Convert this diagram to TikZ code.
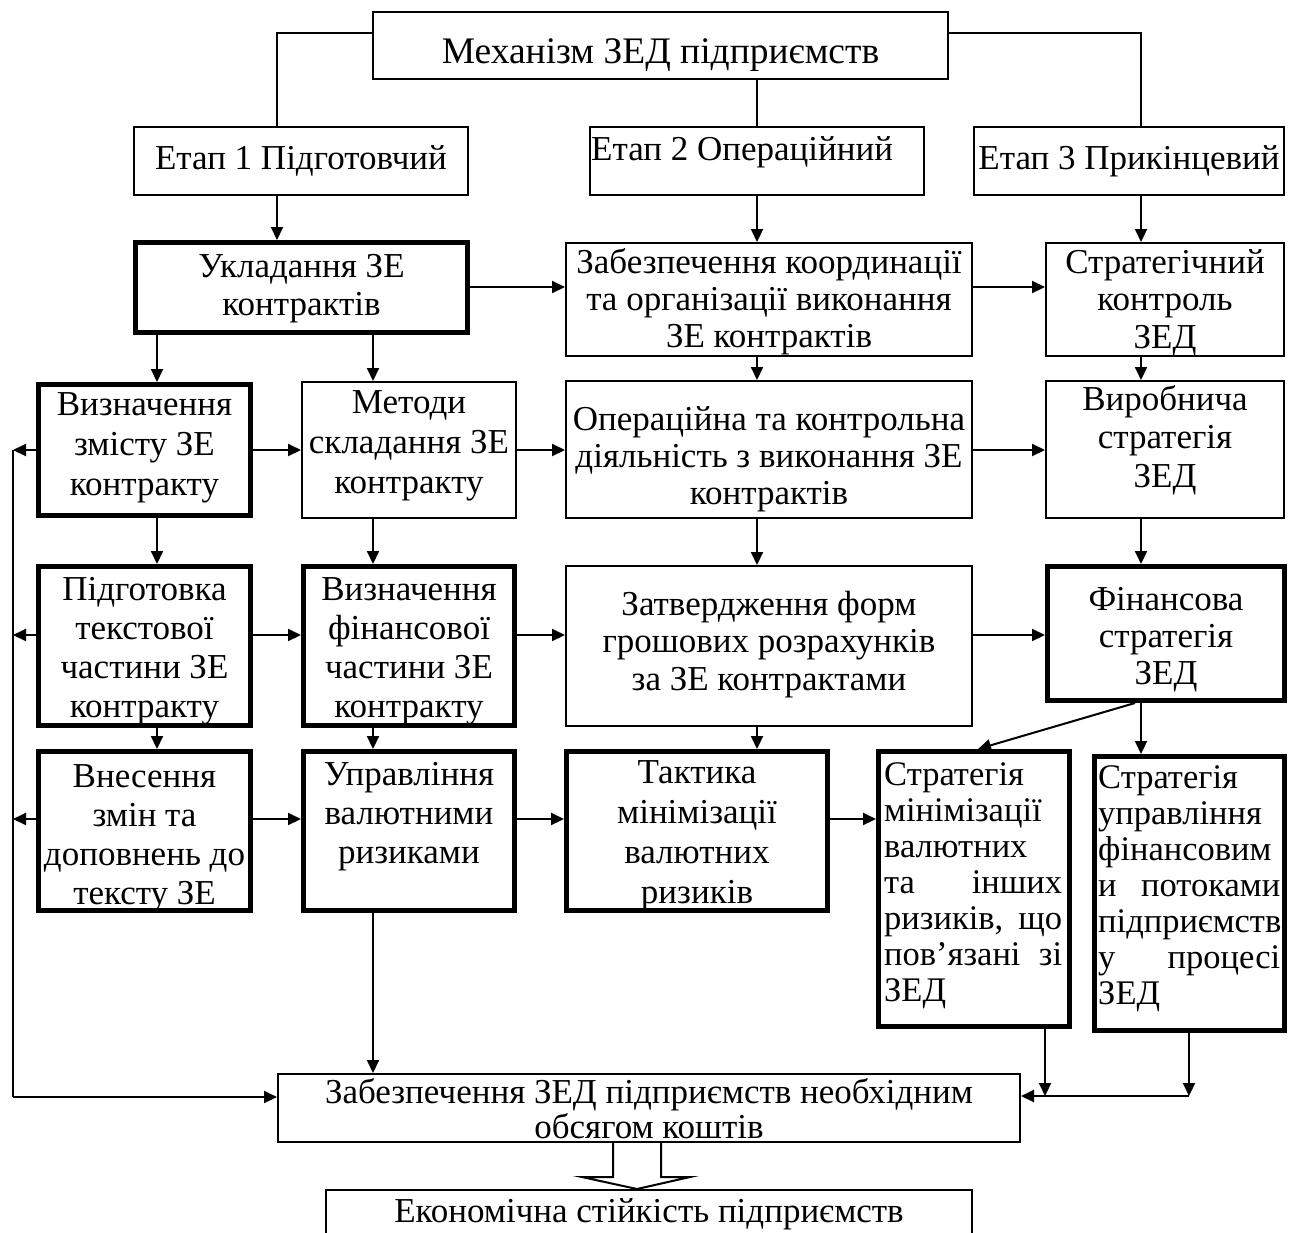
\documentclass[tikz,border=0pt]{standalone}
\usepackage{fontspec}
\setmainfont{Liberation Serif}
\usetikzlibrary{arrows.meta}

% one line of a text block: centred, left-aligned, or spread to both edges
\newcommand\lnC[1]{\hbox to\hsize{\hss#1\hss}}
\newcommand\lnL[1]{\hbox to\hsize{#1\hfil}}
\newcommand\lnJ[2]{\hbox to\hsize{#1\hfill#2}}
% block of lines: width, line distance, lines; its baseline is the first line's
\newcommand\stacklines[3]{\vtop{\hsize=#1pt\baselineskip=#2pt\lineskiplimit=-100pt\lineskip=0pt#3}}

\tikzset{
  thinb/.style={draw, line width=2pt, inner sep=0pt},
  thickb/.style={draw, line width=5pt, inner sep=0pt},
  txt/.style={inner sep=0pt, font=\fontsize{35}{38}\selectfont, anchor=base},
  arr/.style={line width=2pt, -{Triangle[length=13pt,width=12pt]}},
  link/.style={line width=2pt},
}

% boxes given by their outer corners (x1,y1) (x2,y2)
\newcommand\plainbox[5]{\node[thinb, minimum width={#4-#2-2}, minimum height={#5-#3-2}] (#1) at ({(#2+#4)/2},{(#3+#5)/2}) {};}
\newcommand\heavybox[5]{\node[thickb, minimum width={#4-#2-5}, minimum height={#5-#3-5}] (#1) at ({(#2+#4)/2},{(#3+#5)/2}) {};}

\begin{document}
\begin{tikzpicture}[x=1pt,y=-1pt]
\useasboundingbox (0,0) rectangle (1300,1232);
\clip (0,0) rectangle (1300,1232);
\fill[white] (0,0) rectangle (1300,1232);

% ---------- texts ----------
\node[txt, font=\fontsize{37.5}{40}\selectfont] (titT) at (660.5,63) {Механізм ЗЕД підприємств};
\node[txt] (e1T) at (301,169) {Етап 1 Підготовчий};
\node[txt, anchor=base west] (e2T) at (591,160) {Етап 2 Операційний};
\node[txt] (e3T) at (1129,169) {Етап 3 Прикінцевий};

\node[txt] (uklT) at (301.5,277) {\stacklines{330}{38}{\lnC{Укладання ЗЕ}\lnC{контрактів}}};
\node[txt] (zkT) at (769,273) {\stacklines{400}{37}{\lnC{Забезпечення координації}\lnC{та організації виконання}\lnC{ЗЕ контрактів}}};
\node[txt] (skT) at (1165,273) {\stacklines{230}{37.5}{\lnC{Стратегічний}\lnC{контроль}\lnC{ЗЕД}}};

\node[txt] (vizT) at (144.5,415) {\stacklines{210}{40}{\lnC{Визначення}\lnC{змісту ЗЕ}\lnC{контракту}}};
\node[txt] (metT) at (409,413) {\stacklines{210}{40}{\lnC{Методи}\lnC{складання ЗЕ}\lnC{контракту}}};
\node[txt] (opT) at (769,430) {\stacklines{400}{37}{\lnC{Операційна та контрольна}\lnC{діяльність з виконання ЗЕ}\lnC{контрактів}}};
\node[txt] (vyrT) at (1165,410) {\stacklines{230}{38.5}{\lnC{Виробнича}\lnC{стратегія}\lnC{ЗЕД}}};

\node[txt] (pidT) at (144.5,600) {\stacklines{210}{39}{\lnC{Підготовка}\lnC{текстової}\lnC{частини ЗЕ}\lnC{контракту}}};
\node[txt] (vfinT) at (409,600) {\stacklines{210}{39}{\lnC{Визначення}\lnC{фінансової}\lnC{частини ЗЕ}\lnC{контракту}}};
\node[txt] (zatT) at (769,615) {\stacklines{400}{37.5}{\lnC{Затвердження форм}\lnC{грошових розрахунків}\lnC{за ЗЕ контрактами}}};
\node[txt] (fsT) at (1166,610) {\stacklines{230}{37}{\lnC{Фінансова}\lnC{стратегія}\lnC{ЗЕД}}};

\node[txt] (vneT) at (144.5,787) {\stacklines{210}{39.3}{\lnC{Внесення}\lnC{змін та}\lnC{доповнень до}\lnC{тексту ЗЕ}}};
\node[txt] (uprT) at (409,785) {\stacklines{210}{39}{\lnC{Управління}\lnC{валютними}\lnC{ризиками}}};
\node[txt] (takT) at (697,783) {\stacklines{260}{40}{\lnC{Тактика}\lnC{мінімізації}\lnC{валютних}\lnC{ризиків}}};
\node[txt, anchor=base west, font=\fontsize{34.5}{36}\selectfont] (sminT) at (884,785) {\stacklines{178}{36}{\lnL{Стратегія}\lnL{мінімізації}\lnL{валютних}\lnJ{та}{інших}\lnJ{ризиків,}{що}\lnJ{пов’язані}{зі}\lnL{ЗЕД}}};
\node[txt, anchor=base west, font=\fontsize{34.5}{36}\selectfont] (supT) at (1098,788) {\stacklines{182}{36}{\lnL{Стратегія}\lnL{управління}\lnL{фінансовим}\lnJ{и}{потоками}\lnL{підприємств}\lnJ{у}{процесі}\lnL{ЗЕД}}};

\node[txt] (zabT) at (649,1103) {\stacklines{740}{35}{\lnC{Забезпечення ЗЕД підприємств необхідним}\lnC{обсягом коштів}}};
\node[txt] (ecoT) at (649,1222) {Економічна стійкість підприємств};

% ---------- boxes ----------
\plainbox{tit}{372}{11}{949}{80}
\plainbox{e1}{133}{126}{469}{196}
\plainbox{e2}{589}{126}{925}{196}
\plainbox{e3}{973}{126}{1285}{196}

\heavybox{ukl}{133}{240}{470}{335}
\plainbox{zk}{565}{242}{973}{357}
\plainbox{sk}{1045}{242}{1285}{357}

\heavybox{viz}{36}{382}{253}{518}
\plainbox{met}{301}{381}{517}{519}
\plainbox{op}{565}{380}{973}{519}
\plainbox{vyr}{1045}{380}{1285}{519}

\heavybox{pid}{36}{564}{253}{728}
\heavybox{vfin}{301}{564}{517}{728}
\plainbox{zat}{565}{565}{973}{727}
\heavybox{fs}{1045}{564}{1287}{703}

\heavybox{vne}{36}{749}{253}{913}
\heavybox{upr}{301}{749}{517}{913}
\heavybox{tak}{564}{749}{830}{913}
\heavybox{smin}{876}{749}{1072}{1029}
\heavybox{sup}{1092}{754}{1287}{1033}

\plainbox{zab}{277}{1073}{1021}{1143}
\plainbox{eco}{325}{1189}{973}{1262}

% ---------- connector lanes ----------
\coordinate (c0) at (277,0);
\coordinate (c1) at (157,0);
\coordinate (c2) at (373,0);
\coordinate (c3) at (757,0);
\coordinate (c4) at (1141,0);
\coordinate (c5) at (1045,0);
\coordinate (fbtop) at (13,450);
\coordinate (fbbot) at (13,1097);
\coordinate (jn) at (1189,1096);

% title to the three stages
\draw[link] (tit.west |- 0,33) -| (e1.north -| c0);
\draw[link] (tit.east |- 0,33) -| (e3.north -| c4);
\draw[link] (tit.south -| c3) -- (e2.north -| c3);

% stages down
\draw[arr] (e1.south -| c0) -- (ukl.north -| c0);
\draw[arr] (e2.south -| c3) -- (zk.north -| c3);
\draw[arr] (e3.south -| c4) -- (sk.north -| c4);

% row of contracts
\draw[arr] (ukl.east |- 0,287) -- (zk.west |- 0,287);
\draw[arr] (zk.east |- 0,287) -- (sk.west |- 0,287);
\draw[arr] (ukl.south -| c1) -- (viz.north -| c1);
\draw[arr] (ukl.south -| c2) -- (met.north -| c2);
\draw[arr] (zk.south -| c3) -- (op.north -| c3);
\draw[arr] (sk.south -| c4) -- (vyr.north -| c4);

% third row
\draw[arr] (viz.east |- fbtop) -- (met.west |- fbtop);
\draw[arr] (met.east |- fbtop) -- (op.west |- fbtop);
\draw[arr] (op.east |- fbtop) -- (vyr.west |- fbtop);
\draw[arr] (viz.west |- fbtop) -- (fbtop);
\draw[arr] (viz.south -| c1) -- (pid.north -| c1);
\draw[arr] (met.south -| c2) -- (vfin.north -| c2);
\draw[arr] (op.south -| c3) -- (zat.north -| c3);
\draw[arr] (vyr.south -| c4) -- (fs.north -| c4);

% fourth row
\draw[arr] (pid.east |- 0,635) -- (vfin.west |- 0,635);
\draw[arr] (vfin.east |- 0,635) -- (zat.west |- 0,635);
\draw[arr] (zat.east |- 0,635) -- (fs.west |- 0,635);
\draw[arr] (pid.west |- 0,635) -- (fbtop |- 0,635);
\draw[arr] (pid.south -| c1) -- (vne.north -| c1);
\draw[arr] (vfin.south -| c2) -- (upr.north -| c2);
\draw[arr] (zat.south -| c3) -- (tak.north -| c3);
\draw[arr] (fs.south -| c4) -- (sup.north -| c4);
\draw[arr] (fs.south -| 1135,0) -- (smin.north -| 978,0);

% fifth row
\draw[arr] (vne.east |- 0,819) -- (upr.west |- 0,819);
\draw[arr] (upr.east |- 0,819) -- (tak.west |- 0,819);
\draw[arr] (tak.east |- 0,819) -- (smin.west |- 0,819);
\draw[arr] (vne.west |- 0,819) -- (fbtop |- 0,819);

% feedback line and the funding box
\draw[link] (fbtop) -- (fbbot);
\draw[arr] (fbbot) -- (zab.west |- fbbot);
\draw[arr] (upr.south -| c2) -- (zab.north -| c2);
\draw[arr] (smin.south -| c5) -- (c5 |- jn);
\draw[arr] (sup.south -| jn) -- (jn);
\draw[arr] (jn) -- (zab.east |- jn);

% hollow block arrow to the result
\draw[line width=2pt] (zab.south -| 613,0) -- (613,1177) -- (582,1177) -- (637,1189)
  -- (690,1177) -- (661,1177) -- (zab.south -| 661,0);
\end{tikzpicture}
\end{document}
